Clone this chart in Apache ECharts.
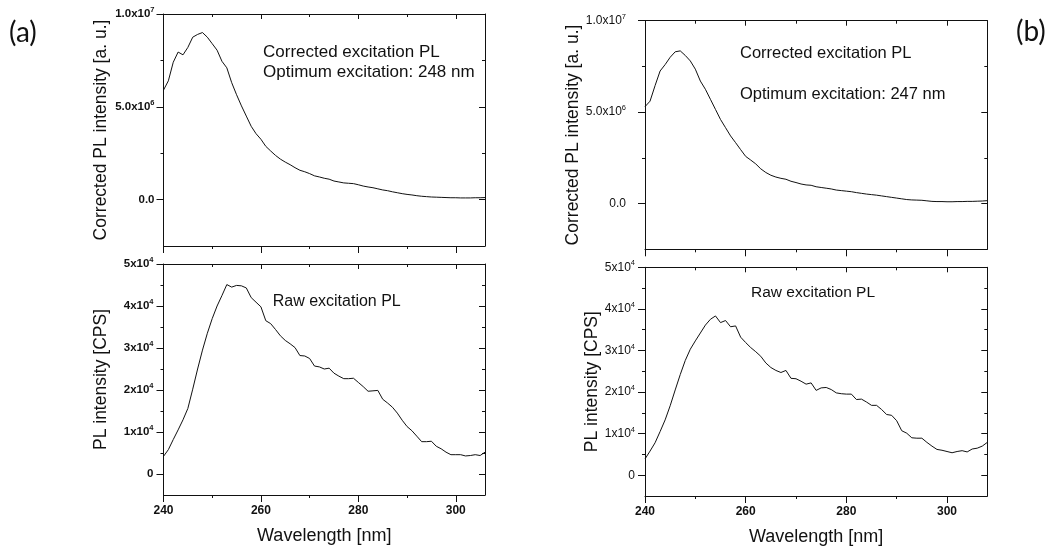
<!DOCTYPE html>
<html>
<head>
<meta charset="utf-8">
<script src="https://cdn.jsdelivr.net/npm/echarts@6/dist/echarts.min.js"></script>
<style>
  html, body { margin: 0; padding: 0; background: #fff; }
  #chart { width: 1057px; height: 554px; }
</style>
</head>
<body>
<div id="chart"></div>
<script>
// wavelength [nm], panel (a) and panel (b)
const wlA = [240, 241, 242, 243, 244, 245, 246, 247, 248, 249,
  250, 251, 252, 253, 254, 255, 256, 257, 258, 259,
  260, 261, 262, 263, 264, 265, 266, 267, 268, 269,
  270, 271, 272, 273, 274, 275, 276, 277, 278, 279,
  280, 281, 282, 283, 284, 285, 286, 287, 288, 289,
  290, 291, 292, 293, 294, 295, 296, 297, 298, 299,
  300, 301, 302, 303, 304, 305, 306]
const wlB = [240, 241, 242, 243, 244, 245, 246, 247, 248, 249,
  250, 251, 252, 253, 254, 255, 256, 257, 258, 259,
  260, 261, 262, 263, 264, 265, 266, 267, 268, 269,
  270, 271, 272, 273, 274, 275, 276, 277, 278, 279,
  280, 281, 282, 283, 284, 285, 286, 287, 288, 289,
  290, 291, 292, 293, 294, 295, 296, 297, 298, 299,
  300, 301, 302, 303, 304, 305, 306, 307, 308]

// corrected excitation PL [a. u.]
const corrA = [5.9e6, 6.4e6, 7.4e6, 7.95e6, 7.8e6, 8.2e6, 8.75e6, 8.9e6, 9.0e6, 8.75e6,
  8.4e6, 8.05e6, 7.45e6, 7.1e6, 6.3e6, 5.65e6, 5.05e6, 4.5e6, 3.95e6, 3.55e6,
  3.25e6, 2.87e6, 2.62e6, 2.38e6, 2.18e6, 2.02e6, 1.88e6, 1.72e6, 1.58e6, 1.5e6,
  1.4e6, 1.28e6, 1.22e6, 1.15e6, 1.1e6, 1.0e6, 0.95e6, 0.9e6, 0.88e6, 0.86e6,
  0.8e6, 0.73e6, 0.68e6, 0.64e6, 0.58e6, 0.52e6, 0.48e6, 0.42e6, 0.37e6, 0.32e6,
  0.28e6, 0.25e6, 0.21e6, 0.18e6, 0.16e6, 0.14e6, 0.13e6, 0.12e6, 0.11e6, 0.1e6,
  0.1e6, 0.09e6, 0.09e6, 0.09e6, 0.1e6, 0.1e6, 0.11e6]
const corrB = [5.3e6, 5.6e6, 6.45e6, 7.25e6, 7.6e6, 8.0e6, 8.3e6, 8.35e6, 8.1e6, 7.8e6,
  7.35e6, 6.7e6, 6.25e6, 5.7e6, 5.15e6, 4.6e6, 4.15e6, 3.7e6, 3.33e6, 2.95e6,
  2.58e6, 2.38e6, 2.17e6, 1.9e6, 1.7e6, 1.55e6, 1.45e6, 1.38e6, 1.33e6, 1.22e6,
  1.15e6, 1.07e6, 1.02e6, 1.0e6, 0.92e6, 0.88e6, 0.84e6, 0.8e6, 0.74e6, 0.71e6,
  0.68e6, 0.65e6, 0.6e6, 0.56e6, 0.52e6, 0.49e6, 0.46e6, 0.42e6, 0.38e6, 0.34e6,
  0.3e6, 0.26e6, 0.22e6, 0.2e6, 0.19e6, 0.18e6, 0.15e6, 0.12e6, 0.11e6, 0.11e6,
  0.1e6, 0.1e6, 0.11e6, 0.11e6, 0.12e6, 0.12e6, 0.13e6, 0.14e6, 0.16e6]

// raw excitation PL [CPS]
const rawA = [4200, 5800, 8200, 10500, 12900, 15600, 20200, 25000, 29500, 33500,
  37000, 40000, 42500, 45100, 44500, 44900, 44800, 44300, 42000, 40900,
  39800, 36500, 35800, 34400, 32900, 31800, 31000, 30100, 28200, 28100,
  27500, 25700, 25500, 25000, 25200, 24000, 23300, 22700, 22700, 22800,
  21800, 20800, 19700, 19800, 19900, 17800, 16900, 15900, 14500, 12800,
  11300, 10300, 9000, 7700, 7700, 7800, 6600, 6000, 5200, 4600,
  4600, 4600, 4300, 4400, 4600, 4400, 5200]
const rawB = [3900, 5800, 7800, 10500, 13300, 16700, 20500, 24200, 27600, 30300,
  32300, 34200, 36100, 37500, 38300, 36700, 37200, 35700, 35900, 33200,
  31900, 30700, 29700, 28600, 27000, 25900, 25200, 24700, 25200, 23300,
  23200, 22600, 21900, 22200, 20400, 21000, 21100, 20600, 19800, 19600,
  19500, 19500, 18200, 18300, 17600, 16800, 16800, 15800, 14600, 14400,
  13100, 10700, 10100, 9000, 8900, 8900, 7900, 7000, 6200, 6000,
  5700, 5400, 5700, 5900, 5600, 6300, 6500, 7000, 7900]

// tick positions
const xMajorTicks = [240, 260, 280, 300]
const xMinorTicks = [250, 270, 290]
const corrMajorTicks = [0, 5e6, 1e7]
const corrMinorTicks = [2.5e6, 7.5e6]
const rawMajorTicks = [0, 1e4, 2e4, 3e4, 4e4, 5e4]
const rawMinorTicks = [5e3, 1.5e4, 2.5e4, 3.5e4, 4.5e4]

const FONT = '"Liberation Sans", Arial, Helvetica, sans-serif'
const INK = '#111'

// 5.0x10^6 style labels
const sciLabel = (digits) => (v) => {
  if (v === 0) return digits ? '0.0' : '0'
  const e = Math.floor(Math.log10(v) + 1e-9)
  const m = v / Math.pow(10, e)
  return '{b|' + m.toFixed(digits) + 'x10}{s|' + e + '}'
}

const panels = [
  { grid: { left: 163.5, top: 14, width: 321.5, height: 232 }, xMax: 306,
    yMin: -2.5e6, yMax: 1e7, wl: wlA, values: corrA, major: corrMajorTicks, minor: corrMinorTicks,
    digits: 1, showX: false, yName: 'Corrected PL intensity [a. u.]', yNameGap: 53,
    yBold: true, yFont: 11.5, yMargin: 9 },
  { grid: { left: 163.5, top: 264, width: 321.5, height: 231 }, xMax: 306,
    yMin: -5000, yMax: 5e4, wl: wlA, values: rawA, major: rawMajorTicks, minor: rawMinorTicks,
    digits: 0, showX: true, yName: 'PL intensity [CPS]', yNameGap: 53,
    yBold: true, yFont: 11.5, yMargin: 10 },
  { grid: { left: 645, top: 20.7, width: 342.3, height: 228.6 }, xMax: 308,
    yMin: -2.5e6, yMax: 1e7, wl: wlB, values: corrB, major: corrMajorTicks, minor: corrMinorTicks,
    digits: 1, showX: false, yName: 'Corrected PL intensity [a. u.]', yNameGap: 53,
    yBold: false, yFont: 12, yMargin: 19 },
  { grid: { left: 645, top: 267.3, width: 342.3, height: 228.7 }, xMax: 308,
    yMin: -5000, yMax: 5e4, wl: wlB, values: rawB, major: rawMajorTicks, minor: rawMinorTicks,
    digits: 0, showX: true, yName: 'PL intensity [CPS]', yNameGap: 44,
    yBold: false, yFont: 12, yMargin: 10 }
]

const notes = [
  { text: '(a)', x: 9, y: 33, size: 28, family: 'Lato, "Open Sans", sans-serif' },
  { text: 'Corrected excitation PL', x: 263, y: 52, size: 17 },
  { text: 'Optimum excitation: 248 nm', x: 263, y: 72, size: 17 },
  { text: 'Raw excitation PL', x: 272.7, y: 302, size: 16 },
  { text: '(b)', x: 1016, y: 32, size: 28, family: 'Lato, "Open Sans", sans-serif' },
  { text: 'Corrected excitation PL', x: 740, y: 53, size: 16.5 },
  { text: 'Optimum excitation: 247 nm', x: 740, y: 94, size: 16.5 },
  { text: 'Raw excitation PL', x: 751, y: 293, size: 15.5 }
]

const line = { show: true, onZero: false, lineStyle: { color: INK, width: 1 } }
const noLine = { show: false, onZero: false }
const tick = (values, length, inside) => ({
  show: true, inside: !!inside, customValues: values, length, lineStyle: { color: INK, width: 1 }
})

const xAxes = []
const yAxes = []
const series = []

panels.forEach((p, i) => {
  const xb = { type: 'value', gridIndex: i, min: 240, max: p.xMax, splitLine: { show: false } }
  xAxes.push({
    ...xb, position: 'bottom', axisLine: line, axisTick: tick(xMajorTicks, 7),
    axisLabel: {
      show: p.showX, customValues: xMajorTicks, margin: 10,
      fontSize: 12, fontWeight: 'bold', fontFamily: FONT, color: INK
    },
    name: p.showX ? 'Wavelength [nm]' : '', nameLocation: 'middle', nameGap: 32,
    nameTextStyle: { fontSize: 18, fontFamily: FONT, color: INK }
  })
  xAxes.push({ ...xb, position: 'bottom', axisLine: noLine, axisTick: tick(xMinorTicks, 3), axisLabel: { show: false } })
  xAxes.push({ ...xb, position: 'top', axisLine: line, axisTick: tick(xMajorTicks, 5, true), axisLabel: { show: false } })
  xAxes.push({ ...xb, position: 'top', axisLine: noLine, axisTick: tick(xMinorTicks, 3, true), axisLabel: { show: false } })

  const yb = { type: 'value', gridIndex: i, min: p.yMin, max: p.yMax, splitLine: { show: false } }
  const weight = p.yBold ? 'bold' : 'normal'
  yAxes.push({
    ...yb, position: 'left', axisLine: line, axisTick: tick(p.major, 7),
    axisLabel: {
      customValues: p.major, margin: p.yMargin, formatter: sciLabel(p.digits),
      fontSize: p.yFont, fontWeight: weight, fontFamily: FONT, color: INK,
      rich: {
        b: { fontSize: p.yFont, fontWeight: weight, fontFamily: FONT, color: INK },
        s: { fontSize: 7.5, fontWeight: weight, fontFamily: FONT, color: INK, padding: [0, 0, 8, 0] }
      }
    },
    name: p.yName, nameLocation: 'middle', nameGap: p.yNameGap,
    nameTextStyle: { fontSize: 17.5, fontFamily: FONT, color: INK }
  })
  yAxes.push({ ...yb, position: 'left', axisLine: noLine, axisTick: tick(p.minor, 3), axisLabel: { show: false } })
  yAxes.push({ ...yb, position: 'right', axisLine: line, axisTick: tick(p.major, 6, true), axisLabel: { show: false } })
  yAxes.push({ ...yb, position: 'right', axisLine: noLine, axisTick: tick(p.minor, 3, true), axisLabel: { show: false } })

  series.push({
    type: 'line',
    xAxisIndex: i * 4,
    yAxisIndex: i * 4,
    data: p.wl.map((w, k) => [w, p.values[k]]),
    showSymbol: false,
    silent: true,
    lineStyle: { color: INK, width: 1 }
  })
})

const chart = echarts.init(document.getElementById('chart'))
chart.setOption({
  animation: false,
  backgroundColor: '#fff',
  grid: panels.map(p => ({ ...p.grid, containLabel: false })),
  xAxis: xAxes,
  yAxis: yAxes,
  series,
  graphic: notes.map(n => ({
    type: 'text',
    x: n.x,
    y: n.y,
    silent: true,
    style: {
      text: n.text,
      fontSize: n.size,
      fontFamily: n.family || FONT,
      fill: INK,
      align: 'left',
      verticalAlign: 'middle'
    }
  }))
})
</script>
</body>
</html>
